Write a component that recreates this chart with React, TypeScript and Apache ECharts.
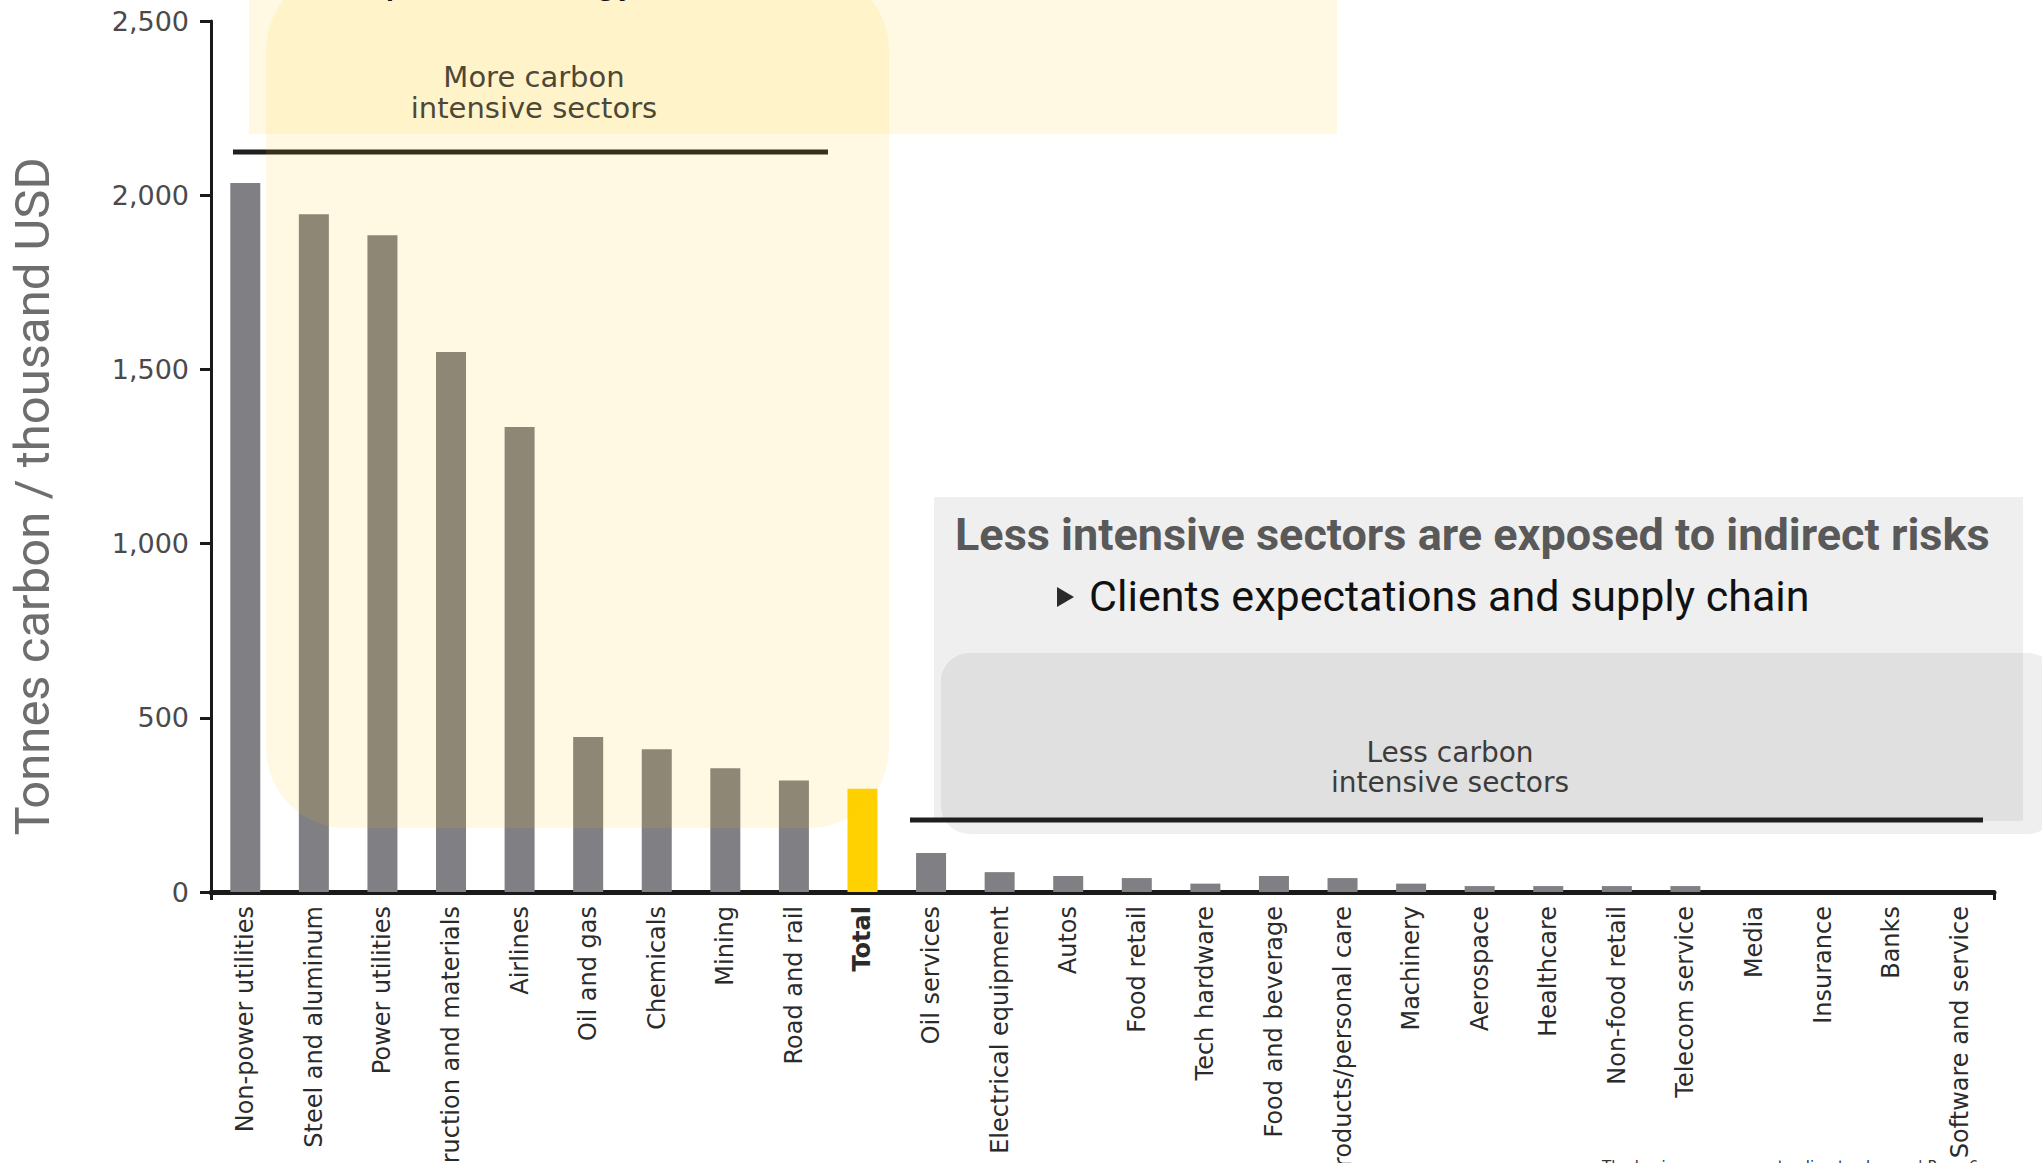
import React, { useEffect, useRef } from "react";
import * as echarts from "echarts";

const categories = [
  "Non-power utilities",
  "Steel and aluminum",
  "Power utilities",
  "Construction and materials",
  "Airlines",
  "Oil and gas",
  "Chemicals",
  "Mining",
  "Road and rail",
  "Total",
  "Oil services",
  "Electrical equipment",
  "Autos",
  "Food retail",
  "Tech hardware",
  "Food and beverage",
  "Household products/personal care",
  "Machinery",
  "Aerospace",
  "Healthcare",
  "Non-food retail",
  "Telecom service",
  "Media",
  "Insurance",
  "Banks",
  "Software and service",
];

const values = [
  2035, 1945, 1885, 1550, 1335, 445, 410, 355, 320, 296, 112, 57, 46, 40, 24,
  46, 40, 24, 17, 17, 17, 17, 0, 0, 0, 0,
];

const yTicks = [0, 500, 1000, 1500, 2000, 2500];

const yAxisTitle = "Tonnes carbon / thousand USD";
const moreLabel = "More carbon\nintensive sectors";
const lessLabel = "Less carbon\nintensive sectors";
const boxTitle = "Less intensive sectors are exposed to indirect risks";
const boxBullet = "Clients expectations and supply chain";
const topCutText = "Carbon cap, and energy costs, etc.";
const footerText = "The business response to climate change | Page 6";

const GRAY = "#807f84";
const YELLOW = "#ffd100";
const OVERLAY = "rgba(255,200,0,0.11)";
const BOXFILL = "rgba(0,0,0,0.062)";

export default function App() {
  const ref = useRef<HTMLDivElement>(null);

  useEffect(() => {
    document.body.style.margin = "0";
    document.body.style.overflow = "hidden";
    if (!ref.current) return;
    const chart = echarts.init(ref.current, undefined, { renderer: "svg" });

    const option: any = {
      animation: false,
      backgroundColor: "#ffffff",
      grid: {
        left: 211,
        right: 48,
        top: 21,
        bottom: 271,
        containLabel: false,
        outerBoundsMode: "none",
      },
      xAxis: {
        type: "category",
        data: categories,
        boundaryGap: true,
        axisLine: { show: true, lineStyle: { color: "#1a1a1a", width: 5 } },
        axisTick: {
          show: true,
          interval: (i: number) => i === 0,
          length: 8,
          lineStyle: { color: "#1a1a1a", width: 3 },
        },
        axisLabel: {
          rotate: 90,
          interval: 0,
          margin: 14,
          fontFamily: "DejaVu Sans",
          fontSize: 24,
          color: "#2b2b2b",
          formatter: (v: string) => (v === "Total" ? `{b|${v}}` : v),
          rich: {
            b: {
              fontFamily: "DejaVu Sans",
              fontSize: 24,
              fontWeight: "bold",
              color: "#2b2b2b",
            },
          },
        },
      },
      yAxis: {
        type: "value",
        min: yTicks[0],
        max: yTicks[yTicks.length - 1],
        interval: 500,
        name: yAxisTitle,
        nameLocation: "middle",
        nameRotate: 90,
        nameGap: 154,
        nameTextStyle: {
          fontFamily: "Roboto",
          fontSize: 49,
          color: "#6e6e6e",
          padding: [0, 80, 0, 0],
        },
        axisLine: { show: true, lineStyle: { color: "#1a1a1a", width: 3 } },
        axisTick: {
          show: true,
          inside: false,
          length: 11,
          lineStyle: { color: "#1a1a1a", width: 3 },
        },
        splitLine: { show: false },
        axisLabel: {
          margin: 22,
          fontFamily: "DejaVu Sans",
          fontSize: 27,
          color: "#4a4a4a",
          formatter: (v: number) => v.toLocaleString("en-US"),
        },
      },
      series: [
        {
          type: "bar",
          barWidth: 30,
          z: 2,
          data: values.map((v, i) => ({
            value: v,
            itemStyle: { color: categories[i] === "Total" ? YELLOW : GRAY },
          })),
        },
      ],
      graphic: [
        {
          type: "rect",
          z: 3,
          shape: { x: 934, y: 497, width: 1089, height: 324 },
          style: { fill: BOXFILL },
        },
        {
          type: "rect",
          z: 3,
          shape: { x: 941, y: 653, width: 1115, height: 181, r: 28 },
          style: { fill: BOXFILL },
        },
        {
          type: "line",
          z: 5,
          shape: { x1: 233, y1: 152, x2: 828, y2: 152 },
          style: { stroke: "#1f1f1f", lineWidth: 5 },
        },
        {
          type: "line",
          z: 5,
          shape: { x1: 910, y1: 820, x2: 1983, y2: 820 },
          style: { stroke: "#1f1f1f", lineWidth: 5 },
        },
        {
          type: "rect",
          z: 10,
          shape: { x: 249, y: 0, width: 1088, height: 134 },
          style: { fill: OVERLAY },
        },
        {
          type: "rect",
          z: 10,
          shape: { x: 266, y: -30, width: 623, height: 858, r: 80 },
          style: { fill: OVERLAY },
        },
        {
          type: "text",
          z: 20,
          x: 534,
          y: 92,
          style: {
            text: moreLabel,
            font: "29px 'DejaVu Sans'",
            fill: "#4d4738",
            align: "center",
            verticalAlign: "middle",
            textAlign: "center",
            textVerticalAlign: "middle",
            lineHeight: 31,
          },
        },
        {
          type: "text",
          z: 20,
          x: 1450,
          y: 767,
          style: {
            text: lessLabel,
            font: "28px 'DejaVu Sans'",
            fill: "#3c3c3c",
            align: "center",
            verticalAlign: "middle",
            textAlign: "center",
            textVerticalAlign: "middle",
            lineHeight: 30,
          },
        },
        {
          type: "text",
          z: 20,
          x: 955,
          y: 534,
          style: {
            text: boxTitle,
            font: "bold 45px Roboto",
            fill: "#595959",
            align: "left",
            verticalAlign: "middle",
            textAlign: "left",
            textVerticalAlign: "middle",
          },
        },
        {
          type: "polygon",
          z: 20,
          shape: {
            points: [
              [1057, 587],
              [1057, 607],
              [1074, 597],
            ],
          },
          style: { fill: "#2a2a2a" },
        },
        {
          type: "text",
          z: 20,
          x: 1089,
          y: 596,
          style: {
            text: boxBullet,
            font: "43px Roboto",
            fill: "#111111",
            align: "left",
            verticalAlign: "middle",
            textAlign: "left",
            textVerticalAlign: "middle",
          },
        },
        {
          type: "text",
          z: 20,
          x: 190,
          y: -2,
          style: {
            text: topCutText,
            font: "43px Roboto",
            fill: "#111111",
            align: "left",
            verticalAlign: "bottom",
            textAlign: "left",
            textVerticalAlign: "bottom",
          },
        },
        {
          type: "text",
          z: 20,
          x: 1602,
          y: 1159,
          style: {
            text: footerText,
            font: "15px 'DejaVu Sans'",
            fill: "#333333",
            align: "left",
            verticalAlign: "top",
            textAlign: "left",
            textVerticalAlign: "top",
          },
        },
      ],
    };

    chart.setOption(option);
    return () => chart.dispose();
  }, []);

  return <div ref={ref} style={{ width: 2042, height: 1163 }} />;
}
